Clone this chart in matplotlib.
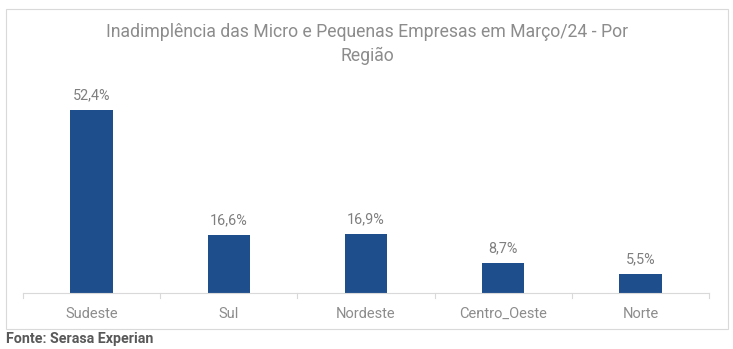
import matplotlib
matplotlib.use('Agg')
import matplotlib.pyplot as plt
from matplotlib.patches import Rectangle

plt.rcParams['font.family'] = ['Roboto', 'DejaVu Sans']

regioes = ["Sudeste", "Sul", "Nordeste", "Centro_Oeste", "Norte"]
valores = [52.4, 16.6, 16.9, 8.7, 5.5]
rotulos = ["52,4%", "16,6%", "16,9%", "8,7%", "5,5%"]

W, H = 733, 349
fig = plt.figure(figsize=(W / 100, H / 100), dpi=100)

# moldura do gráfico
fig.patches.append(Rectangle((6 / W, 1 - 329 / H), 722 / W, 320 / H,
                             transform=fig.transFigure, fill=False,
                             edgecolor='#d9d9d9', linewidth=0.8))

ax = fig.add_axes([23 / W, 1 - 293 / H, 686 / W, 210 / H])
x = range(len(regioes))
ax.bar(x, valores, width=0.31, color='#1f4e8c')
for xi, v, r in zip(x, valores, rotulos):
    ax.text(xi, v + 2.2, r, ha='center', va='bottom', fontsize=10.4, color='#7f7f7f')

ax.set_xlim(-0.5, len(regioes) - 0.5)
ax.set_ylim(0, 60)
ax.set_yticks([])
ax.set_xticks(list(x))
ax.set_xticklabels(regioes, fontsize=10.5, color='#8c8c8c')
ax.tick_params(axis='x', length=0, pad=10)
# marcas entre categorias
for b in [i - 0.5 for i in range(len(regioes) + 1)]:
    ax.plot([b, b], [0, -1.3], color='#d9d9d9', linewidth=0.8, clip_on=False)
for s in ['top', 'right', 'left']:
    ax.spines[s].set_visible(False)
ax.spines['bottom'].set_color('#d9d9d9')

fig.text(367 / W, 1 - 44 / H,
         "Inadimplência das Micro e Pequenas Empresas em Março/24 - Por\nRegião",
         ha='center', va='center', fontsize=12.7, color='#8c8c8c', linespacing=1.4)

fig.text(6 / W, 1 - 339 / H, "Fonte: Serasa Experian", ha='left', va='center',
         fontsize=10.3, fontweight='bold', color='#595959')

fig.savefig('out.png', dpi=100, facecolor='white')
